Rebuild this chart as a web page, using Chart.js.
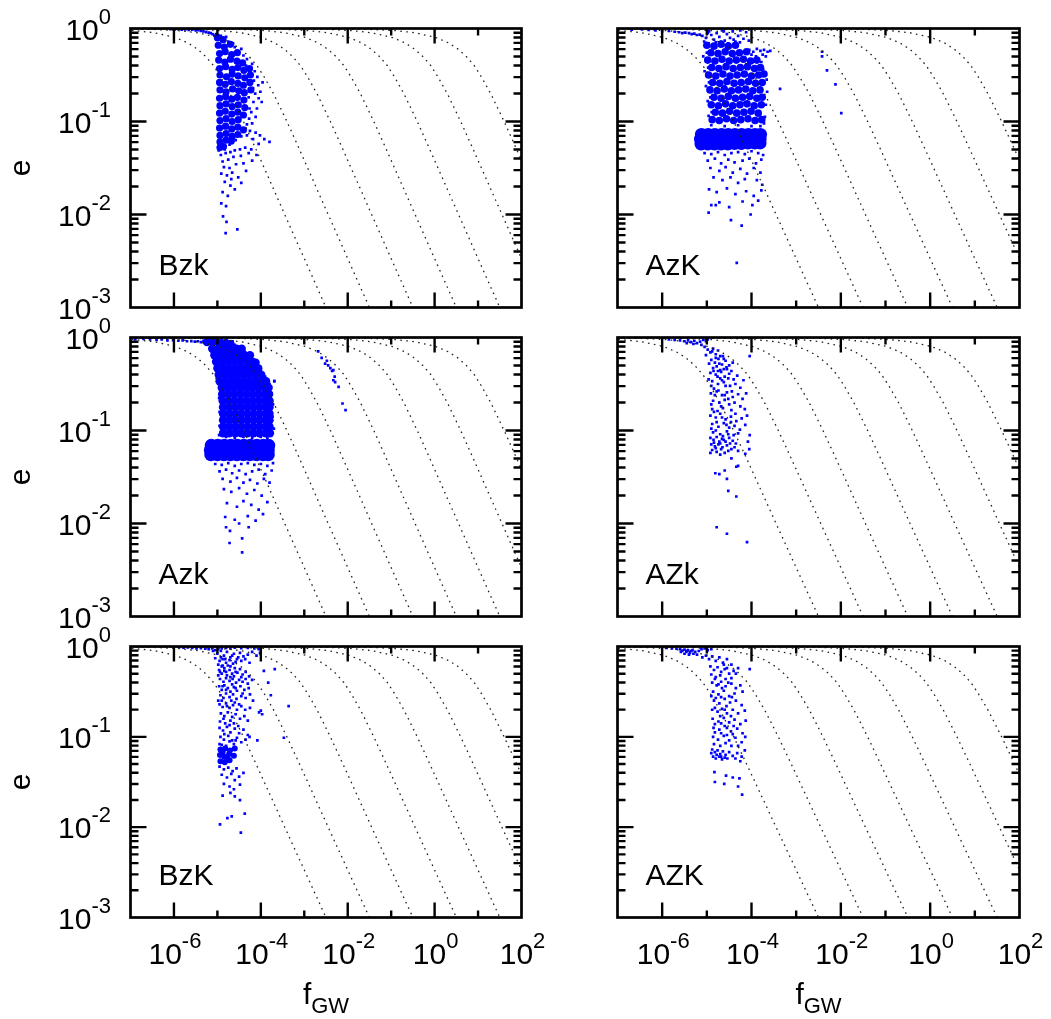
<!DOCTYPE html>
<html>
<head>
<meta charset="utf-8">
<script src="https://cdn.jsdelivr.net/npm/chart.js@4.4.1/dist/chart.umd.min.js"></script>
<style>
  html, body { margin: 0; padding: 0; background: #fff; }
  #wrap { position: relative; width: 1051px; height: 1019px; }
  #wrap canvas { position: absolute; left: 0; top: 0; }
</style>
</head>
<body>
<div id="wrap"></div>
<script>
// tick labels (powers of ten)
const xTickExps = [-6, -4, -2, 0, 2];
const yTickExps = [0, -1, -2, -3];
const panelNames = ['Bzk', 'AzK', 'Azk', 'AZk', 'BzK', 'AZK'];

// dotted evolution tracks: eccentricity samples and log10(f) of each track
const trackE = [0.999999, 0.99999, 0.9999, 0.999, 0.995, 0.99, 0.98, 0.95, 0.9, 0.8, 0.7, 0.6, 0.5, 0.4, 0.3, 0.2, 0.15, 0.1, 0.05, 0.03, 0.01, 0.001, 0.0003];
const track1 = [-13.97, -12.47, -10.97, -9.47, -8.42, -7.97, -7.52, -6.91, -6.45, -5.97, -5.68, -5.46, -5.27, -5.09, -4.92, -4.71, -4.58, -4.40, -4.11, -3.90, -3.45, -2.50, -2.01];
const track2 = [-12.97, -11.47, -9.97, -8.47, -7.42, -6.97, -6.52, -5.91, -5.45, -4.97, -4.68, -4.46, -4.27, -4.09, -3.92, -3.71, -3.58, -3.40, -3.11, -2.90, -2.45, -1.50, -1.01];
const track3 = [-11.97, -10.47, -8.97, -7.47, -6.42, -5.97, -5.52, -4.91, -4.45, -3.97, -3.68, -3.46, -3.27, -3.09, -2.92, -2.71, -2.58, -2.40, -2.11, -1.90, -1.45, -0.50, -0.01];
const track4 = [-10.97, -9.47, -7.97, -6.47, -5.42, -4.97, -4.52, -3.91, -3.45, -2.97, -2.68, -2.46, -2.27, -2.09, -1.92, -1.71, -1.58, -1.40, -1.11, -0.90, -0.45, 0.50, 0.99];
const track5 = [-9.97, -8.47, -6.97, -5.47, -4.42, -3.97, -3.52, -2.91, -2.45, -1.97, -1.68, -1.46, -1.27, -1.09, -0.92, -0.71, -0.58, -0.40, -0.11, 0.10, 0.55, 1.50, 1.99];
const track6 = [-8.97, -7.47, -5.97, -4.47, -3.42, -2.97, -2.52, -1.91, -1.45, -0.97, -0.68, -0.46, -0.27, -0.09, 0.08, 0.29, 0.42, 0.60, 0.89, 1.10, 1.55, 2.50, 2.99];
const track7 = [-7.97, -6.47, -4.97, -3.47, -2.42, -1.97, -1.52, -0.91, -0.45, 0.03, 0.32, 0.54, 0.73, 0.91, 1.08, 1.29, 1.42, 1.60, 1.89, 2.10, 2.55, 3.50, 3.99];

// scatter points, [log10 f_GW, log10 e]
const coreBzk = [
  [-5.0,-0.1],[-4.87,-0.12],
  [-4.98,-0.18],[-4.84,-0.2],[-4.7,-0.17],
  [-4.95,-0.27],[-4.82,-0.25],[-4.67,-0.28],[-4.54,-0.26],
  [-4.97,-0.34],[-4.83,-0.36],[-4.7,-0.33],[-4.55,-0.35],[-4.42,-0.37],
  [-4.95,-0.43],[-4.81,-0.41],[-4.66,-0.44],[-4.53,-0.42],[-4.39,-0.45],[-4.26,-0.43],
  [-4.94,-0.5],[-4.79,-0.52],[-4.66,-0.49],[-4.52,-0.51],[-4.37,-0.53],[-4.24,-0.5],
  [-4.95,-0.58],[-4.82,-0.6],[-4.68,-0.57],[-4.53,-0.59],[-4.4,-0.61],[-4.25,-0.58],
  [-4.94,-0.66],[-4.8,-0.68],[-4.65,-0.65],[-4.51,-0.67],[-4.38,-0.69],[-4.23,-0.66],
  [-4.95,-0.75],[-4.81,-0.73],[-4.67,-0.76],[-4.54,-0.74],[-4.39,-0.77],
  [-4.94,-0.83],[-4.8,-0.81],[-4.66,-0.84],[-4.52,-0.82],[-4.37,-0.85],
  [-4.95,-0.91],[-4.82,-0.89],[-4.67,-0.92],[-4.53,-0.9],[-4.4,-0.93],
  [-4.94,-0.99],[-4.8,-0.97],[-4.66,-1.0],[-4.52,-0.98],
  [-4.95,-1.07],[-4.81,-1.05],[-4.67,-1.08],[-4.53,-1.06],[-4.4,-1.09],
  [-4.94,-1.15],[-4.8,-1.13],[-4.66,-1.16],[-4.53,-1.14],
  [-4.94,-1.22],[-4.8,-1.2],[-4.68,-1.21],
  [-4.94,-1.28],[-4.86,-1.27]
];
const dotsBzk = [
  [-6.08,-0.008],[-5.98,-0.01],[-5.9,-0.006],[-5.82,-0.012],[-5.74,-0.01],[-5.66,-0.015],[-5.58,-0.013],[-5.5,-0.02],
  [-5.44,-0.018],[-5.38,-0.027],[-5.32,-0.03],[-5.26,-0.038],[-5.2,-0.045],[-5.15,-0.05],[-5.11,-0.062],[-5.07,-0.075],
  [-5.03,-0.06],[-4.98,-0.07],[-4.92,-0.08],[-4.8,-0.09],[-4.75,-0.14],[-4.64,-0.16],[-4.6,-0.2],
  [-4.45,-0.22],[-4.4,-0.29],[-4.32,-0.33],[-4.2,-0.38],[-4.14,-0.46],[-4.08,-0.52],[-4.16,-0.56],[-4.06,-0.61],
  [-4.13,-0.7],[-4.05,-0.75],[-4.17,-0.79],[-4.09,-0.86],[-4.22,-0.9],[-4.12,-0.95],[-4.27,-0.97],[-4.2,-1.02],
  [-4.32,-1.03],[-4.28,-0.74],[-4.26,-0.86],[-4.18,-0.64],[-4.3,-0.56],[-3.98,-0.79],[-4.01,-0.68],[-3.96,-0.58],
  [-4.24,-0.47],[-4.34,-0.4],
  [-4.25,-1.1],[-4.12,-1.12],[-4.02,-1.15],[-3.8,-1.22],[-3.92,-1.19],[-4.05,-1.24],[-4.18,-1.19],[-4.32,-1.15],
  [-4.45,-1.16],[-4.58,-1.2],[-4.72,-1.25],[-4.83,-1.3],[-4.97,-1.31],
  [-4.92,-1.36],[-4.81,-1.34],[-4.7,-1.33],[-4.6,-1.31],[-4.48,-1.3],[-4.36,-1.28],[-4.22,-1.3],[-4.88,-1.43],
  [-4.75,-1.41],[-4.63,-1.38],[-4.46,-1.37],[-4.28,-1.34],[-4.1,-1.36],[-4.85,-1.49],[-4.72,-1.5],[-4.57,-1.46],
  [-4.4,-1.45],[-4.2,-1.42],[-4.91,-1.56],[-4.78,-1.58],[-4.66,-1.55],[-4.52,-1.6],[-4.34,-1.53],[-4.83,-1.65],
  [-4.7,-1.69],[-4.6,-1.73],[-4.45,-1.66],[-4.88,-1.76],[-4.76,-1.8],[-4.91,-1.88],[-4.8,-1.91],[-4.87,-2.02],
  [-4.79,-2.08],[-4.81,-2.2],[-4.54,-2.16],[-4.68,-1.62]
];

const coreAzK = [
  [-5.0,-0.18],[-4.84,-0.19],[-4.68,-0.17],[-4.52,-0.19],[-4.36,-0.18],
  [-4.91,-0.26],[-4.75,-0.27],[-4.59,-0.25],[-4.43,-0.27],[-4.27,-0.26],[-4.11,-0.25],
  [-4.98,-0.34],[-4.82,-0.35],[-4.66,-0.33],[-4.5,-0.35],[-4.34,-0.34],[-4.18,-0.33],[-4.02,-0.35],[-3.88,-0.34],
  [-4.89,-0.42],[-4.73,-0.43],[-4.57,-0.41],[-4.41,-0.43],[-4.25,-0.42],[-4.09,-0.41],[-3.93,-0.43],[-3.8,-0.42],
  [-4.96,-0.5],[-4.8,-0.51],[-4.64,-0.49],[-4.48,-0.51],[-4.32,-0.5],[-4.16,-0.49],[-4.0,-0.51],[-3.84,-0.5],[-3.72,-0.49],
  [-4.87,-0.58],[-4.71,-0.59],[-4.55,-0.57],[-4.39,-0.59],[-4.23,-0.58],[-4.07,-0.57],[-3.91,-0.59],[-3.76,-0.58],
  [-4.93,-0.66],[-4.77,-0.67],[-4.61,-0.65],[-4.45,-0.67],[-4.29,-0.66],[-4.13,-0.65],[-3.97,-0.67],[-3.81,-0.66],
  [-4.84,-0.74],[-4.68,-0.75],[-4.52,-0.73],[-4.36,-0.75],[-4.2,-0.74],[-4.04,-0.73],[-3.88,-0.75],[-3.76,-0.74],
  [-4.9,-0.82],[-4.74,-0.83],[-4.58,-0.81],[-4.42,-0.83],[-4.26,-0.82],[-4.1,-0.81],[-3.94,-0.83],[-3.78,-0.82],
  [-4.81,-0.9],[-4.65,-0.91],[-4.49,-0.89],[-4.33,-0.91],[-4.17,-0.9],[-4.01,-0.89],[-3.85,-0.91],
  [-4.88,-0.98],[-4.72,-0.99],[-4.56,-0.97],[-4.4,-0.99],[-4.24,-0.98],[-4.08,-0.97],[-3.92,-0.99],[-3.77,-0.98]
];
const blobAzK = [
  [-5.12,-1.14],[-4.97,-1.14],[-4.82,-1.14],[-4.67,-1.14],[-4.52,-1.14],[-4.37,-1.14],[-4.22,-1.14],[-4.07,-1.14],[-3.92,-1.14],[-3.8,-1.14],
  [-5.14,-1.19],[-4.99,-1.19],[-4.84,-1.19],[-4.69,-1.19],[-4.54,-1.19],[-4.39,-1.19],[-4.24,-1.19],[-4.09,-1.19],[-3.94,-1.19],[-3.81,-1.19],
  [-5.13,-1.24],[-4.98,-1.24],[-4.83,-1.24],[-4.68,-1.24],[-4.53,-1.24],[-4.38,-1.235],[-4.23,-1.235],[-4.08,-1.23],[-3.93,-1.23],[-3.81,-1.23]
];
const dotsAzK = [
  [-6.68,-0.012],[-6.45,-0.01],[-6.3,-0.015],[-6.15,-0.02],[-6.0,-0.03],[-5.85,-0.025],[-5.72,-0.035],[-5.62,-0.04],
  [-5.55,-0.05],[-5.48,-0.045],[-5.4,-0.05],[-5.34,-0.06],[-5.28,-0.055],[-5.22,-0.07],[-5.16,-0.065],
  [-5.1,-0.08],[-5.02,-0.1],[-4.95,-0.03],[-4.9,-0.07],[-4.84,-0.12],[-4.78,-0.05],[-4.72,-0.09],[-4.66,-0.02],
  [-4.6,-0.13],[-4.55,-0.06],[-4.48,-0.1],[-4.42,-0.03],[-4.36,-0.14],[-4.3,-0.08],[-4.25,-0.02],[-4.18,-0.11],
  [-4.12,-0.04],[-4.06,-0.13],[-5.06,-0.14],[-4.96,-0.16],[-4.8,-0.15],[-4.68,-0.14],[-4.52,-0.16],[-4.4,-0.12],
  [-4.26,-0.15],[-4.98,-0.05],[-4.62,-0.03],
  [-4.05,-0.23],[-3.96,-0.25],[-3.88,-0.22],[-3.8,-0.24],[-3.72,-0.23],[-3.64,-0.25],[-3.58,-0.24],[-3.75,-0.28],
  [-3.9,-0.3],[-4.0,-0.28],[-3.68,-0.3],
  [-5.08,-0.3],[-5.05,-0.46],[-5.02,-0.62],[-4.98,-0.78],[-4.96,-0.94],[-5.0,-0.26],[-4.97,-0.42],[-4.95,-0.58],
  [-4.92,-0.74],[-4.89,-0.9],[-3.78,-0.36],[-3.74,-0.44],[-3.66,-0.55],[-3.65,-0.68],[-3.68,-0.82],[-3.7,-0.95],
  [-3.72,-1.02],[-4.6,-0.62],[-4.2,-0.8],[-4.4,-0.3],[-4.05,-0.95],[-4.9,-1.04],[-4.6,-1.05],[-4.3,-1.04],[-4.0,-1.05],[-3.8,-1.05],
  [-5.05,-1.34],[-4.9,-1.35],[-4.75,-1.33],[-4.6,-1.36],[-4.45,-1.34],[-4.3,-1.33],[-4.15,-1.35],[-4.0,-1.32],
  [-3.85,-1.34],[-3.74,-1.36],[-4.98,-1.42],[-4.82,-1.4],[-4.68,-1.45],[-4.52,-1.41],[-4.38,-1.44],[-4.2,-1.42],
  [-4.05,-1.4],[-3.9,-1.45],[-3.78,-1.41],[-4.92,-1.5],[-4.72,-1.53],[-4.58,-1.49],[-4.42,-1.55],[-4.25,-1.51],
  [-4.1,-1.56],[-3.95,-1.5],[-3.8,-1.55],[-4.85,-1.6],[-4.65,-1.63],[-4.47,-1.6],[-4.3,-1.66],[-4.15,-1.62],
  [-3.88,-1.63],[-3.76,-1.68],[-4.95,-1.73],[-4.78,-1.76],[-4.55,-1.72],[-4.36,-1.78],[-4.12,-1.75],[-3.95,-1.8],
  [-3.78,-1.74],[-4.9,-1.9],[-4.72,-1.87],[-4.5,-1.92],[-4.2,-1.86],[-3.98,-1.9],[-3.85,-1.85],[-4.96,-1.98],
  [-4.8,-1.9],[-4.46,-2.06],[-4.22,-2.12],[-4.02,-2.0],[-4.33,-2.52],
  [-3.36,-0.65],[-2.42,-0.25],[-2.42,-0.3],[-2.31,-0.45],[-2.12,-0.6],[-1.99,-0.91]
];

const coreAzk = [
  [-5.24,-0.05],[-5.1,-0.05],[-4.96,-0.06],[-4.82,-0.06],[-4.7,-0.07],
  [-5.12,-0.12],[-4.98,-0.12],[-4.84,-0.12],[-4.7,-0.12],[-4.56,-0.12],[-4.44,-0.12],
  [-5.07,-0.19],[-4.93,-0.19],[-4.79,-0.19],[-4.65,-0.19],[-4.51,-0.19],[-4.37,-0.19],[-4.25,-0.19],
  [-5.03,-0.26],[-4.89,-0.26],[-4.75,-0.26],[-4.61,-0.26],[-4.47,-0.26],[-4.33,-0.26],[-4.19,-0.26],[-4.12,-0.27],
  [-5.0,-0.33],[-4.86,-0.33],[-4.72,-0.33],[-4.58,-0.33],[-4.44,-0.33],[-4.3,-0.33],[-4.16,-0.33],[-4.06,-0.33],
  [-4.97,-0.4],[-4.83,-0.4],[-4.69,-0.4],[-4.55,-0.4],[-4.41,-0.4],[-4.27,-0.4],[-4.13,-0.4],[-3.99,-0.4],
  [-4.95,-0.47],[-4.81,-0.47],[-4.67,-0.47],[-4.53,-0.47],[-4.39,-0.47],[-4.25,-0.47],[-4.11,-0.47],[-3.97,-0.47],[-3.88,-0.47],
  [-4.9,-0.54],[-4.76,-0.54],[-4.62,-0.54],[-4.48,-0.54],[-4.34,-0.54],[-4.2,-0.54],[-4.06,-0.54],[-3.92,-0.54],[-3.82,-0.54],
  [-4.89,-0.61],[-4.75,-0.61],[-4.61,-0.61],[-4.47,-0.61],[-4.33,-0.61],[-4.19,-0.61],[-4.05,-0.61],[-3.91,-0.61],[-3.81,-0.61],
  [-4.88,-0.68],[-4.74,-0.68],[-4.6,-0.68],[-4.46,-0.68],[-4.32,-0.68],[-4.18,-0.68],[-4.04,-0.68],[-3.9,-0.68],[-3.8,-0.68],
  [-4.87,-0.75],[-4.73,-0.75],[-4.59,-0.75],[-4.45,-0.75],[-4.31,-0.75],[-4.17,-0.75],[-4.03,-0.75],[-3.89,-0.75],[-3.8,-0.75],
  [-4.87,-0.82],[-4.73,-0.82],[-4.59,-0.82],[-4.45,-0.82],[-4.31,-0.82],[-4.17,-0.82],[-4.03,-0.82],[-3.89,-0.82],[-3.8,-0.82],
  [-4.87,-0.89],[-4.73,-0.89],[-4.59,-0.89],[-4.45,-0.89],[-4.31,-0.89],[-4.17,-0.89],[-4.03,-0.89],[-3.89,-0.89],[-3.8,-0.89],
  [-4.87,-0.96],[-4.73,-0.96],[-4.59,-0.96],[-4.45,-0.96],[-4.31,-0.96],[-4.17,-0.96],[-4.03,-0.96],[-3.89,-0.96],[-3.8,-0.96],
  [-4.87,-1.03],[-4.73,-1.03],[-4.59,-1.03],[-4.45,-1.03],[-4.31,-1.03],[-4.17,-1.03],[-4.03,-1.03],[-3.89,-1.03],[-3.79,-1.03]
];
const blobAzk = [
  [-5.14,-1.16],[-4.99,-1.16],[-4.84,-1.16],[-4.69,-1.16],[-4.54,-1.16],[-4.39,-1.16],[-4.24,-1.16],[-4.09,-1.16],[-3.94,-1.16],[-3.82,-1.16],
  [-5.16,-1.21],[-5.01,-1.21],[-4.86,-1.21],[-4.71,-1.21],[-4.56,-1.21],[-4.41,-1.21],[-4.26,-1.21],[-4.11,-1.21],[-3.96,-1.21],[-3.83,-1.21],
  [-5.15,-1.26],[-5.0,-1.26],[-4.85,-1.26],[-4.7,-1.26],[-4.55,-1.26],[-4.4,-1.26],[-4.25,-1.26],[-4.1,-1.26],[-3.95,-1.26],[-3.83,-1.26]
];
const dotsAzk = [
  [-6.89,-0.02],[-6.7,-0.015],[-6.55,-0.02],[-6.4,-0.025],[-6.28,-0.02],[-6.15,-0.03],[-6.02,-0.028],[-5.9,-0.035],
  [-5.8,-0.03],[-5.7,-0.04],[-5.6,-0.038],[-5.52,-0.045],[-5.45,-0.04],[-5.38,-0.05],[-5.32,-0.035],[-5.25,-0.02],
  [-5.16,-0.015],[-5.05,-0.02],[-4.9,-0.02],[-4.78,-0.03],[-4.65,-0.04],
  [-4.6,-0.08],[-4.5,-0.1],[-4.38,-0.15],[-4.22,-0.22],[-4.1,-0.28],[-4.0,-0.36],[-3.9,-0.42],[-3.8,-0.5],
  [-3.75,-0.6],[-3.72,-0.72],[-3.73,-0.85],[-3.7,-0.98],[-3.69,-0.47],
  [-5.12,-0.16],[-5.06,-0.25],[-5.0,-0.36],[-4.97,-0.5],[-4.96,-0.65],[-4.95,-0.8],[-4.95,-0.95],[-4.96,-1.05],
  [-4.8,-1.07],[-4.6,-1.08],[-4.4,-1.07],[-4.2,-1.08],[-4.0,-1.07],[-3.85,-1.08],
  [-5.05,-1.36],[-4.9,-1.37],[-4.75,-1.35],[-4.6,-1.38],[-4.45,-1.36],[-4.3,-1.35],[-4.15,-1.37],[-4.0,-1.36],
  [-3.85,-1.38],[-3.72,-1.35],[-4.95,-1.44],[-4.8,-1.42],[-4.66,-1.46],[-4.5,-1.43],[-4.35,-1.47],[-4.2,-1.44],
  [-4.05,-1.42],[-3.9,-1.47],[-3.75,-1.43],[-4.88,-1.52],[-4.7,-1.55],[-4.55,-1.51],[-4.4,-1.56],[-4.25,-1.53],
  [-4.08,-1.57],[-3.93,-1.52],[-3.8,-1.56],[-4.85,-1.63],[-4.68,-1.66],[-4.5,-1.62],[-4.32,-1.68],[-4.15,-1.64],
  [-3.98,-1.7],[-3.85,-1.77],[-4.78,-1.78],[-4.55,-1.82],[-4.4,-1.76],[-4.22,-1.8],[-4.05,-1.85],[-4.82,-1.93],
  [-4.6,-1.96],[-4.3,-1.92],[-4.12,-1.97],[-3.95,-1.9],[-4.8,-2.04],[-4.71,-2.08],[-4.28,-2.04],[-4.43,-2.16],
  [-4.72,-2.21],[-4.43,-2.31],[-4.5,-2.0],
  [-2.68,-0.15],[-2.6,-0.22],[-2.52,-0.28],[-2.45,-0.3],[-2.4,-0.33],[-2.36,-0.36],[-2.33,-0.35],[-2.3,-0.42],
  [-2.29,-0.48],[-2.33,-0.46],[-2.21,-0.53],[-2.12,-0.71],[-2.05,-0.78],[-2.48,-0.25],[-3.69,-0.47]
];

const dotsAZk = [
  [-5.85,-0.02],[-5.72,-0.025],[-5.6,-0.03],[-5.5,-0.04],[-5.42,-0.03],[-5.35,-0.05],[-5.28,-0.035],[-5.22,-0.06],
  [-5.15,-0.045],[-5.08,-0.025],[-5.02,-0.04],[-4.98,-0.02],[-5.45,-0.06],[-5.3,-0.07],[-5.12,-0.08],
  [-5.05,-0.1],[-4.98,-0.13],[-4.92,-0.16],[-4.86,-0.12],[-4.8,-0.18],[-4.75,-0.14],[-4.7,-0.2],[-5.02,-0.19],
  [-4.04,-0.2],[-4.62,-0.23],
  [-4.9,-0.24],[-4.82,-0.27],[-4.74,-0.23],[-4.66,-0.29],[-4.58,-0.25],[-4.5,-0.3],[-4.42,-0.27],[-4.86,-0.33],
  [-4.7,-0.35],[-4.55,-0.34],[-4.78,-0.31],
  [-4.92,-0.38],[-4.8,-0.4],[-4.68,-0.37],[-4.6,-0.42],[-4.5,-0.39],[-4.4,-0.45],[-4.32,-0.41],[-4.88,-0.47],
  [-4.75,-0.5],[-4.62,-0.48],[-4.48,-0.52],[-4.36,-0.5],[-4.25,-0.54],[-4.18,-0.46],[-4.84,-0.55],[-4.7,-0.44],
  [-4.91,-0.6],[-4.78,-0.58],[-4.66,-0.62],[-4.55,-0.59],[-4.42,-0.64],[-4.3,-0.61],[-4.2,-0.66],[-4.12,-0.6],
  [-4.86,-0.68],[-4.72,-0.7],[-4.6,-0.67],[-4.5,-0.72],[-4.38,-0.7],[-4.25,-0.74],[-4.88,-0.77],[-4.76,-0.79],
  [-4.64,-0.76],[-4.45,-0.78],[-4.15,-0.77],
  [-4.92,-0.84],[-4.8,-0.86],[-4.7,-0.82],[-4.58,-0.88],[-4.46,-0.85],[-4.34,-0.9],[-4.22,-0.87],[-4.1,-0.84],
  [-4.88,-0.93],[-4.74,-0.96],[-4.62,-0.92],[-4.5,-0.97],[-4.38,-0.95],[-4.26,-0.99],[-4.14,-0.94],[-4.86,-1.02],
  [-4.7,-1.04],[-4.55,-1.01],[-4.4,-1.05],[-4.3,-1.03],
  [-4.92,-1.08],[-4.85,-1.1],[-4.78,-1.07],[-4.72,-1.12],[-4.66,-1.09],[-4.58,-1.12],[-4.5,-1.08],[-4.42,-1.11],
  [-4.35,-1.14],[-4.9,-1.15],[-4.82,-1.17],[-4.74,-1.15],[-4.65,-1.18],[-4.55,-1.16],[-4.45,-1.2],[-4.88,-1.21],
  [-4.78,-1.23],[-4.68,-1.2],[-4.6,-1.24],[-4.3,-1.22],[-4.08,-1.12],[-4.05,-1.2],[-4.14,-1.25],[-4.04,-1.05],
  [-4.81,-1.46],[-4.72,-1.47],[-4.55,-1.52],[-4.34,-1.39],[-4.3,-1.38],[-4.52,-1.65],[-4.34,-1.71],[-4.78,-2.04],
  [-4.55,-2.11],[-4.1,-2.2],[-4.6,-1.43],[-4.45,-1.3],
  [-4.88,-0.15],[-4.8,-0.22],[-4.72,-0.28],[-4.64,-0.2],[-4.56,-0.32],[-4.85,-0.36],[-4.76,-0.42],[-4.66,-0.46],
  [-4.58,-0.52],[-4.52,-0.44],[-4.9,-0.52],[-4.82,-0.62],[-4.74,-0.57],[-4.68,-0.74],[-4.6,-0.62],[-4.52,-0.66],
  [-4.44,-0.58],[-4.9,-0.72],[-4.84,-0.8],[-4.78,-0.91],[-4.66,-0.86],[-4.56,-0.94],[-4.46,-0.91],[-4.36,-0.82],
  [-4.9,-0.98],[-4.8,-1.0],[-4.64,-1.06],[-4.52,-1.04],[-4.84,-1.13],[-4.7,-1.14],[-4.62,-1.1],[-4.48,-1.14],
  [-4.38,-1.18],[-4.8,-1.19],[-4.92,-1.24],[-4.7,-1.26],[-4.52,-1.22],[-4.75,-0.36],[-4.62,-0.34],[-4.45,-0.36],
  [-4.95,-0.28],[-4.96,-0.45]
];

const coreBzK = [
  [-4.93,-1.14],[-4.82,-1.13],[-4.71,-1.15],[-4.6,-1.13],[-4.94,-1.2],[-4.84,-1.22],[-4.73,-1.19],[-4.62,-1.21],
  [-4.93,-1.27],[-4.83,-1.28],[-4.72,-1.26],[-4.88,-1.17],[-4.77,-1.24]
];
const dotsBzK = [
  [-5.88,-0.008],[-5.78,-0.012],[-5.68,-0.01],[-5.58,-0.015],[-5.48,-0.02],[-5.38,-0.018],[-5.28,-0.025],[-5.2,-0.03],
  [-5.12,-0.02],[-5.05,-0.04],[-4.98,-0.03],[-4.9,-0.02],[-4.8,-0.015],[-4.7,-0.02],[-4.6,-0.012],[-4.45,-0.018],
  [-4.3,-0.015],[-4.15,-0.02],[-4.05,-0.03],
  [-5.1,-0.05],[-5.0,-0.08],[-4.92,-0.05],[-4.85,-0.1],[-4.78,-0.06],[-4.7,-0.12],[-4.62,-0.08],[-4.55,-0.14],
  [-4.48,-0.07],[-4.4,-0.11],[-4.3,-0.09],[-4.2,-0.06],[-4.1,-0.1],[-4.02,-0.07],[-5.05,-0.13],[-4.95,-0.16],
  [-4.88,-0.14],[-4.8,-0.18],[-4.72,-0.15],[-4.64,-0.19],[-4.58,-0.17],[-4.98,-0.2],[-4.9,-0.22],[-4.76,-0.21],[-4.84,-0.24],
  [-4.96,-0.26],[-4.9,-0.3],[-4.84,-0.27],[-4.78,-0.32],[-4.72,-0.26],[-4.66,-0.3],[-4.6,-0.24],[-4.54,-0.29],
  [-4.48,-0.25],[-4.42,-0.31],[-4.35,-0.28],[-4.27,-0.33],[-4.94,-0.36],[-4.86,-0.39],[-4.8,-0.35],[-4.72,-0.38],
  [-4.65,-0.36],[-4.57,-0.4],[-4.5,-0.37],[-4.42,-0.39],[-4.3,-0.41],[-4.2,-0.37],[-4.88,-0.21],[-4.7,-0.22],
  [-4.62,-0.33],[-4.98,-0.32],
  [-4.96,-0.44],[-4.9,-0.48],[-4.84,-0.43],[-4.76,-0.46],[-4.7,-0.5],[-4.62,-0.45],[-4.55,-0.49],[-4.47,-0.44],
  [-4.38,-0.48],[-4.28,-0.46],[-4.93,-0.54],[-4.86,-0.57],[-4.8,-0.52],[-4.72,-0.56],[-4.64,-0.53],[-4.56,-0.58],
  [-4.45,-0.55],[-4.35,-0.57],[-4.25,-0.53],[-4.18,-0.6],[-4.98,-0.6],
  [-4.95,-0.64],[-4.88,-0.67],[-4.8,-0.63],[-4.72,-0.68],[-4.64,-0.65],[-4.55,-0.7],[-4.45,-0.66],[-4.36,-0.7],
  [-4.25,-0.68],[-4.92,-0.74],[-4.84,-0.77],[-4.76,-0.73],[-4.66,-0.78],[-4.58,-0.75],[-4.48,-0.8],[-4.38,-0.77],
  [-4.3,-0.82],[-4.94,-0.83],[-4.82,-0.85],[-4.7,-0.82],
  [-4.95,-0.9],[-4.87,-0.93],[-4.78,-0.89],[-4.7,-0.95],[-4.6,-0.91],[-4.5,-0.96],[-4.4,-0.92],[-4.3,-0.98],
  [-4.93,-1.0],[-4.85,-1.03],[-4.75,-0.99],[-4.66,-1.04],[-4.55,-1.01],[-4.45,-1.06],[-4.35,-1.03],[-4.26,-1.0],
  [-4.9,-1.09],[-4.8,-1.1],[-4.62,-1.08],
  [-4.95,-1.33],[-4.85,-1.36],[-4.75,-1.34],[-4.65,-1.38],[-4.56,-1.35],[-4.9,-1.42],[-4.78,-1.45],[-4.68,-1.41],
  [-4.6,-1.48],[-4.5,-1.44],[-4.4,-1.4],[-4.85,-1.52],[-4.72,-1.55],[-4.62,-1.58],[-4.48,-1.53],[-4.88,-1.65],
  [-4.6,-1.66],[-4.48,-1.7],[-4.7,-1.62],[-4.94,-1.97],[-4.77,-1.9],[-4.67,-1.88],[-4.37,-1.85],[-4.46,-2.06],
  [-3.93,-0.27],[-3.68,-0.25],[-3.83,-0.4],[-4.04,-0.73],[-3.36,-0.66],[-3.47,-1.01],[-3.77,-0.54],[-4.08,-1.04],
  [-4.0,-0.71],[-3.97,-0.75],
  [-4.92,-0.12],[-4.82,-0.14],[-4.66,-0.1],[-4.52,-0.12],[-4.45,-0.16],[-4.36,-0.14],[-4.26,-0.18],[-4.94,-0.28],
  [-4.8,-0.28],[-4.7,-0.34],[-4.58,-0.28],[-4.45,-0.34],[-4.35,-0.36],[-4.88,-0.44],[-4.8,-0.48],[-4.66,-0.42],
  [-4.58,-0.46],[-4.42,-0.52],[-4.9,-0.6],[-4.78,-0.66],[-4.68,-0.6],[-4.6,-0.62],[-4.5,-0.64],[-4.86,-0.8],
  [-4.72,-0.87],[-4.62,-0.85],[-4.52,-0.88],[-4.84,-0.97],[-4.72,-1.05],[-4.58,-1.04],[-4.95,-1.08]
];

const dotsAZK = [
  [-5.9,-0.015],[-5.78,-0.02],[-5.68,-0.025],[-5.6,-0.03],[-5.55,-0.045],[-5.5,-0.035],[-5.46,-0.06],[-5.42,-0.04],
  [-5.38,-0.07],[-5.35,-0.05],[-5.3,-0.08],[-5.26,-0.06],[-5.22,-0.09],[-5.18,-0.05],[-5.12,-0.03],[-5.05,-0.02],
  [-4.98,-0.04],[-4.9,-0.03],[-5.5,-0.08],[-5.4,-0.09],[-5.32,-0.04],[-5.45,-0.05],[-5.58,-0.06],
  [-5.1,-0.12],[-5.02,-0.1],[-4.95,-0.14],[-4.88,-0.11],[-4.8,-0.16],[-4.72,-0.12],[-4.64,-0.18],[-4.55,-0.14],
  [-4.45,-0.2],[-4.3,-0.24],[-4.04,-0.25],[-4.92,-0.22],[-4.84,-0.26],[-4.76,-0.23],[-4.68,-0.28],[-4.6,-0.25],
  [-4.5,-0.3],[-4.4,-0.27],[-4.9,-0.31],[-4.8,-0.34],[-4.7,-0.32],[-4.58,-0.36],[-4.45,-0.35],
  [-4.88,-0.4],[-4.78,-0.43],[-4.68,-0.39],[-4.58,-0.44],[-4.45,-0.41],[-4.35,-0.46],[-4.25,-0.43],[-4.86,-0.5],
  [-4.74,-0.53],[-4.62,-0.49],[-4.5,-0.55],[-4.38,-0.52],[-4.2,-0.5],[-4.84,-0.6],[-4.72,-0.63],[-4.6,-0.58],
  [-4.48,-0.62],[-4.35,-0.6],[-4.22,-0.65],[-4.88,-0.7],[-4.76,-0.72],[-4.66,-0.69],[-4.55,-0.74],[-4.42,-0.7],
  [-4.3,-0.74],[-4.15,-0.71],[-4.87,-0.8],[-4.74,-0.83],[-4.62,-0.79],[-4.5,-0.84],[-4.38,-0.81],[-4.25,-0.86],
  [-4.13,-0.82],[-4.85,-0.9],[-4.72,-0.92],[-4.6,-0.88],[-4.46,-0.94],[-4.32,-0.91],[-4.2,-0.96],[-4.86,-1.0],
  [-4.75,-1.03],[-4.62,-0.99],[-4.5,-1.04],[-4.36,-1.01],[-4.22,-1.06],[-4.14,-1.0],
  [-4.88,-1.14],[-4.82,-1.17],[-4.76,-1.15],[-4.7,-1.19],[-4.64,-1.16],[-4.58,-1.2],[-4.5,-1.17],[-4.42,-1.21],
  [-4.32,-1.18],[-4.22,-1.22],[-4.86,-1.22],[-4.8,-1.24],[-4.72,-1.22],[-4.66,-1.25],[-4.6,-1.23],[-4.15,-1.15],
  [-4.25,-1.27],
  [-4.83,-1.39],[-4.82,-1.5],[-4.61,-1.52],[-4.57,-1.43],[-4.42,-1.45],[-4.27,-1.46],[-4.3,-1.55],[-4.21,-1.64],
  [-4.82,-0.36],[-4.74,-0.42],[-4.66,-0.46],[-4.52,-0.4],[-4.9,-0.55],[-4.8,-0.57],[-4.68,-0.56],[-4.56,-0.66],
  [-4.44,-0.56],[-4.82,-0.68],[-4.7,-0.77],[-4.6,-0.7],[-4.46,-0.77],[-4.82,-0.86],[-4.68,-0.85],[-4.55,-0.9],
  [-4.4,-0.88],[-4.82,-0.95],[-4.68,-0.96],[-4.55,-0.98],[-4.42,-0.97],[-4.84,-1.08],[-4.7,-1.1],[-4.58,-1.07],
  [-4.45,-1.1],[-4.3,-1.1],[-4.9,-1.18],[-4.78,-1.2],[-4.68,-1.22],[-4.54,-1.24],[-4.36,-1.24],[-4.62,-0.2],
  [-4.55,-0.24],[-4.35,-0.3]
];

const W = 1051, H = 1019;
const columns = [{left: 130.5, right: 521.5}, {left: 617.5, right: 1019.5}];
const rows = [{top: 28.5, bottom: 307.5}, {top: 337.5, bottom: 616.5}, {top: 646.5, bottom: 917.5}];
const BASE_FONT = '30px "Liberation Sans", Arial, Helvetica, sans-serif';
const SMALL_FONT = '22px "Liberation Sans", Arial, Helvetica, sans-serif';
const BLUE = '#0000ff';

function drawPower(ctx, exp, x, baseY, align) {
  const expText = String(exp);
  ctx.font = BASE_FONT;
  const bw = ctx.measureText('10').width;
  ctx.font = SMALL_FONT;
  const ew = ctx.measureText(expText).width;
  const x0 = align === 'right' ? x - bw - ew : x - (bw + ew) / 2;
  ctx.textAlign = 'left';
  ctx.textBaseline = 'alphabetic';
  ctx.font = BASE_FONT;
  ctx.fillText('10', x0, baseY);
  ctx.font = SMALL_FONT;
  ctx.fillText(expText, x0 + bw, baseY - 16);
}

// gnuplot style frame: inward ticks on all four sides, labels with superscripts
const framePlugin = {
  id: 'frame',
  afterDraw(chart, args, opts) {
    const ctx = chart.ctx;
    const a = chart.chartArea;
    const xs = chart.scales.x, ys = chart.scales.y;
    ctx.save();
    ctx.strokeStyle = '#000';
    ctx.fillStyle = '#000';
    ctx.lineWidth = 2.4;
    ctx.beginPath();
    for (let k = -6; k <= 1; k++) {
      const px = xs.getPixelForValue(Math.pow(10, k));
      const len = k % 2 === 0 ? 15 : 7;
      ctx.moveTo(px, a.bottom); ctx.lineTo(px, a.bottom - len);
      ctx.moveTo(px, a.top); ctx.lineTo(px, a.top + len);
    }
    for (let d = -3; d < 0; d++) {
      for (let m = 1; m <= 9; m++) {
        const py = ys.getPixelForValue(m * Math.pow(10, d));
        if (py >= a.bottom - 0.5) continue;
        const len = m === 1 ? 16 : 8;
        ctx.moveTo(a.left, py); ctx.lineTo(a.left + len, py);
        ctx.moveTo(a.right, py); ctx.lineTo(a.right - len, py);
      }
    }
    ctx.stroke();
    ctx.lineWidth = 2.7;
    ctx.strokeRect(a.left, a.top, a.right - a.left, a.bottom - a.top);

    if (opts.yLabels) {
      yTickExps.forEach(k => {
        const py = ys.getPixelForValue(Math.pow(10, k));
        drawPower(ctx, k, 111, py + 11, 'right');
      });
      ctx.save();
      ctx.translate(30, (a.top + a.bottom) / 2);
      ctx.rotate(-Math.PI / 2);
      ctx.font = BASE_FONT;
      ctx.textAlign = 'center';
      ctx.textBaseline = 'alphabetic';
      ctx.fillText('e', 0, 0);
      ctx.restore();
    }
    if (opts.xLabels) {
      xTickExps.forEach(k => {
        const px = xs.getPixelForValue(Math.pow(10, k));
        drawPower(ctx, k, px + 1, a.bottom + 46, 'center');
      });
      ctx.font = BASE_FONT;
      const fw = ctx.measureText('f').width;
      ctx.font = SMALL_FONT;
      const gw = ctx.measureText('GW').width;
      const x0 = (a.left + a.right) / 2 - (fw + gw) / 2;
      ctx.textAlign = 'left';
      ctx.font = BASE_FONT;
      ctx.fillText('f', x0, 1004);
      ctx.font = SMALL_FONT;
      ctx.fillText('GW', x0 + fw, 1013);
    }
    ctx.font = BASE_FONT;
    ctx.textAlign = 'left';
    ctx.textBaseline = 'alphabetic';
    ctx.fillText(opts.name, a.left + 28, a.bottom - 33);
    ctx.restore();
  }
};

const toXY = pts => pts.map(p => ({x: Math.pow(10, p[0]), y: Math.pow(10, p[1])}));
const tracks = [track1, track2, track3, track4, track5, track6, track7];

const panels = [
  {col: 0, row: 0, dots: dotsBzk, core: coreBzk, coreR: 3.6},
  {col: 1, row: 0, dots: dotsAzK, core: coreAzK, coreR: 3.8, blob: blobAzK},
  {col: 0, row: 1, dots: dotsAzk, core: coreAzk, coreR: 4.2, blob: blobAzk},
  {col: 1, row: 1, dots: dotsAZk},
  {col: 0, row: 2, dots: dotsBzK, core: coreBzK, coreR: 3.0},
  {col: 1, row: 2, dots: dotsAZK}
];

const wrap = document.getElementById('wrap');

panels.forEach((p, i) => {
  const col = columns[p.col], row = rows[p.row];
  const canvas = document.createElement('canvas');
  canvas.width = W; canvas.height = H;
  canvas.style.width = W + 'px'; canvas.style.height = H + 'px';
  wrap.appendChild(canvas);

  const datasets = tracks.map(t => ({
    data: t.map((lf, j) => ({x: Math.pow(10, lf), y: trackE[j]})),
    showLine: true,
    borderColor: '#222',
    borderWidth: 1.3,
    borderDash: [1.6, 4.4],
    pointRadius: 0,
    fill: false
  }));
  if (p.blob) {
    datasets.push({data: toXY(p.blob), pointRadius: 6.6, pointStyle: 'circle',
      backgroundColor: BLUE, borderWidth: 0, pointBorderWidth: 0});
  }
  if (p.core) {
    datasets.push({data: toXY(p.core), pointRadius: p.coreR, pointStyle: 'circle',
      backgroundColor: BLUE, borderWidth: 0, pointBorderWidth: 0});
  }
  datasets.push({data: toXY(p.dots), pointRadius: 1.9, pointStyle: 'rect',
    backgroundColor: BLUE, borderWidth: 0, pointBorderWidth: 0});

  new Chart(canvas, {
    type: 'scatter',
    data: {datasets},
    options: {
      responsive: false,
      animation: false,
      events: [],
      layout: {padding: {left: col.left, right: W - col.right, top: row.top, bottom: H - row.bottom}},
      scales: {
        x: {type: 'logarithmic', min: 1e-7, max: 1e2, display: false},
        y: {type: 'logarithmic', min: 1e-3, max: 1, display: false}
      },
      plugins: {
        legend: {display: false},
        tooltip: {enabled: false},
        frame: {name: panelNames[i], yLabels: p.col === 0, xLabels: p.row === 2}
      }
    },
    plugins: [framePlugin]
  });
});
</script>
</body>
</html>
